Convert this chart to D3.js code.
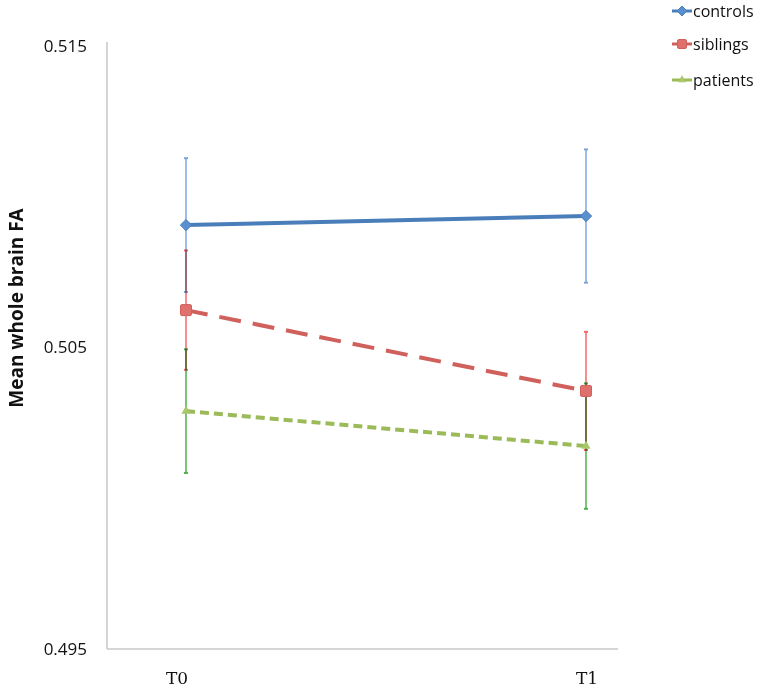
<!DOCTYPE html>
<html lang="en">
<head>
<meta charset="UTF-8">
<title>Mean whole brain FA</title>
<script src="https://d3js.org/d3.v7.min.js"></script>
<style>
  body { margin: 0; background: #fff; }
  text { font-family: 'Open Sans', 'Liberation Sans', sans-serif; fill: #111; }
</style>
</head>
<body>
<div id="chart"></div>
<script>
// data
var timepoints = ["T0", "T1"];
var groups = ["controls", "siblings", "patients"];
var controlsMean = [0.50906, 0.50936];
var controlsErr = [0.00222, 0.00221];
var siblingsMean = [0.50624, 0.50356];
var siblingsErr = [0.00198, 0.00196];
var patientsMean = [0.50289, 0.50173];
var patientsErr = [0.00205, 0.00208];
var yTicks = [0.495, 0.505, 0.515];

var series = [
  { name: groups[0], mean: controlsMean, err: controlsErr, color: "#4a7ebb", errColor: "#7ea6dc", dash: null, marker: "diamond" },
  { name: groups[1], mean: siblingsMean, err: siblingsErr, color: "#d0605c", errColor: "#f26a6a", dash: "22,12", marker: "square" },
  { name: groups[2], mean: patientsMean, err: patientsErr, color: "#9bbb59", errColor: "#4cb04c", dash: "9,5", marker: "triangle" }
];

var svg = d3.select("#chart").append("svg")
  .attr("width", 759)
  .attr("height", 688);

var x = d3.scalePoint().domain(timepoints).range([186, 586]);
var y = d3.scaleLinear().domain([0.495, 0.515]).range([649, 46]);

// axes
svg.append("line")
  .attr("x1", 107).attr("x2", 107)
  .attr("y1", 42).attr("y2", 649)
  .attr("stroke", "#c8c8c8").attr("stroke-width", 1.5);
svg.append("line")
  .attr("x1", 107).attr("x2", 618)
  .attr("y1", 649).attr("y2", 649)
  .attr("stroke", "#c8c8c8").attr("stroke-width", 1.5);

svg.selectAll(".ytick")
  .data(yTicks)
  .enter().append("text")
  .attr("class", "ytick")
  .attr("x", 87)
  .attr("y", function(d) { return y(d); })
  .attr("dy", "0.35em")
  .attr("text-anchor", "end")
  .style("font-size", "17px")
  .text(function(d) { return d3.format(".3f")(d); });

// the T0 label sits a little left of its point in the original
svg.selectAll(".xtick")
  .data(timepoints)
  .enter().append("text")
  .attr("class", "xtick")
  .attr("x", function(d) { return x(d); })
  .attr("dx", function(d, i) { return i === 0 ? -9 : 1; })
  .attr("y", 684)
  .attr("text-anchor", "middle")
  .style("font-family", "'DejaVu Serif', 'Liberation Serif', serif")
  .style("font-size", "17px")
  .text(function(d) { return d; });

svg.append("text")
  .attr("transform", "translate(16,308) rotate(-90)")
  .attr("text-anchor", "middle")
  .attr("dy", "0.35em")
  .style("font-size", "19px")
  .style("font-weight", "bold")
  .text("Mean whole brain FA");

// error bars
var eb = svg.append("g").style("isolation", "isolate");
series.forEach(function(s) {
  timepoints.forEach(function(t, i) {
    var g = eb.append("g").style("mix-blend-mode", "multiply");
    g.append("line")
      .attr("x1", x(t)).attr("x2", x(t))
      .attr("y1", y(s.mean[i] + s.err[i]))
      .attr("y2", y(s.mean[i] - s.err[i]))
      .attr("stroke", s.errColor).attr("stroke-width", 2).attr("stroke-opacity", 0.75);
    [s.mean[i] + s.err[i], s.mean[i] - s.err[i]].forEach(function(v) {
      g.append("line")
        .attr("x1", x(t) - 2).attr("x2", x(t) + 2)
        .attr("y1", y(v)).attr("y2", y(v))
        .attr("stroke", s.errColor).attr("stroke-width", 2);
    });
  });
});

// lines
var line = d3.line()
  .x(function(d, i) { return x(timepoints[i]); })
  .y(function(d) { return y(d); });

series.forEach(function(s) {
  svg.append("path")
    .datum(s.mean)
    .attr("d", line)
    .attr("fill", "none")
    .attr("stroke", s.color)
    .attr("stroke-width", 4)
    .attr("stroke-dasharray", s.dash);
});

function drawMarker(g, type, cx, cy, color, size) {
  if (type === "diamond") {
    g.append("path")
      .attr("d", d3.symbol().type(d3.symbolDiamond2).size(size * 9)())
      .attr("transform", "translate(" + cx + "," + cy + ")")
      .attr("fill", "#5a8fd0").attr("stroke", color).attr("stroke-width", 1);
  } else if (type === "square") {
    g.append("rect")
      .attr("x", cx - size / 2).attr("y", cy - size / 2)
      .attr("width", size).attr("height", size)
      .attr("rx", 1.5)
      .style("fill", "#e0706b").style("stroke", color).style("stroke-width", 1);
  } else {
    g.append("path")
      .attr("d", d3.symbol().type(d3.symbolTriangle).size(size * 4)())
      .attr("transform", "translate(" + cx + "," + cy + ")")
      .attr("fill", "#a8c86a").attr("stroke", "none");
  }
}

series.forEach(function(s) {
  timepoints.forEach(function(t, i) {
    drawMarker(svg, s.marker, x(t), y(s.mean[i]), s.color, s.marker === "square" ? 11 : 9);
  });
});

// legend
var legend = svg.append("g");
var legY = [11, 44, 80];
series.forEach(function(s, i) {
  legend.append("line")
    .attr("x1", 672).attr("x2", 692)
    .attr("y1", legY[i]).attr("y2", legY[i])
    .attr("stroke", s.color).attr("stroke-width", 3);
  drawMarker(legend, s.marker, 682, legY[i], s.color, s.marker === "square" ? 9 : 7);
  legend.append("text")
    .attr("x", 693)
    .attr("y", legY[i] + 6)
    .style("font-size", "16px")
    .text(s.name);
});
</script>
</body>
</html>
